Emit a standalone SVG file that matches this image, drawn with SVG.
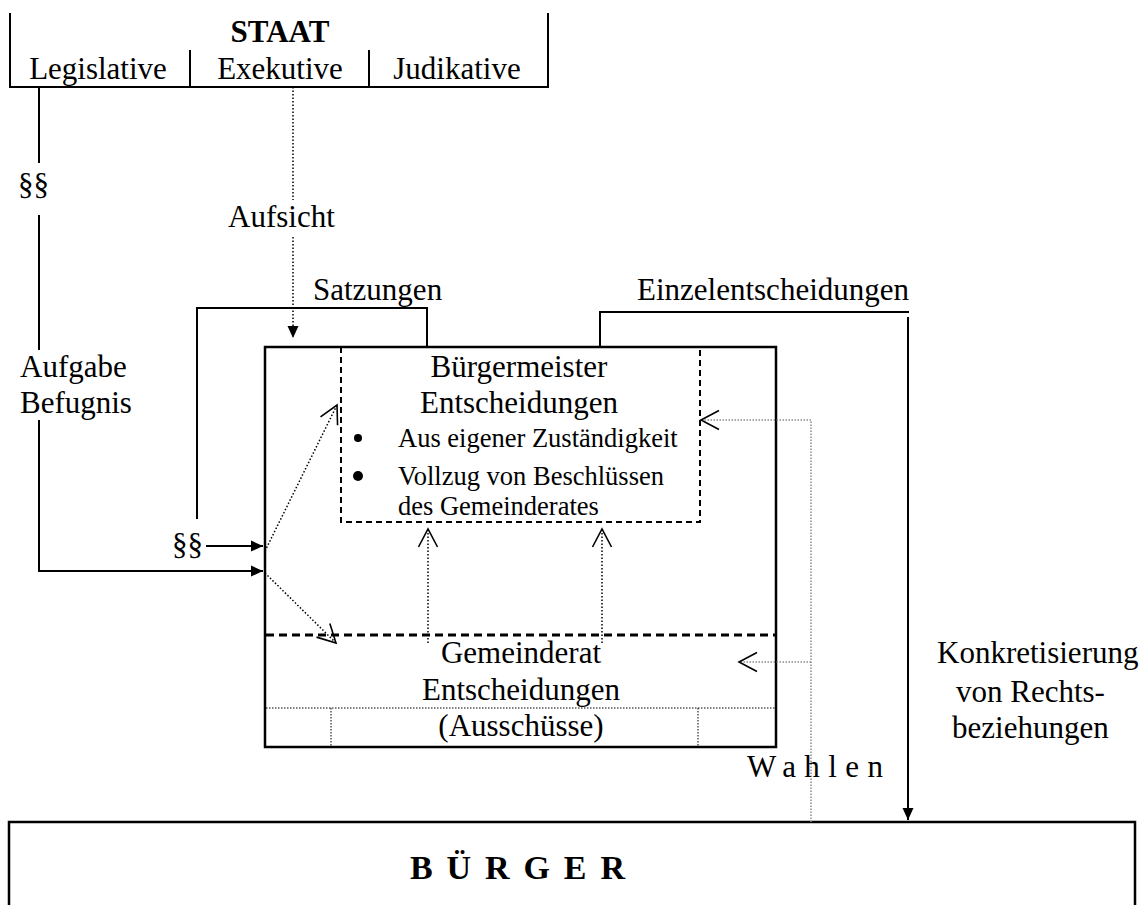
<svg xmlns="http://www.w3.org/2000/svg" width="1145" height="905" viewBox="0 0 1145 905">
  <style>
    text { font-family: "Liberation Serif", "Times New Roman", serif; font-size: 31px; fill: #000; }
    .bold { font-weight: bold; }
    .big { font-size: 34px; }
    .small { font-size: 26.5px; }
    .solid { fill: none; stroke: #000; stroke-width: 2; }
    .frame { fill: none; stroke: #000; stroke-width: 2.5; }
    .dash { fill: none; stroke: #000; stroke-width: 2; stroke-dasharray: 6 4; }
    .thickdash { fill: none; stroke: #000; stroke-width: 3; stroke-dasharray: 8 5; }
    .dot { fill: none; stroke: #000; stroke-width: 1.5; stroke-dasharray: 1.5 2; }
    .thindot { fill: none; stroke: #000; stroke-width: 1; stroke-dasharray: 1.5 1.5; }
    .greydot { fill: none; stroke: #8a8a8a; stroke-width: 1.5; stroke-dasharray: 1.5 1.5; }
  </style>
  <defs>
    <marker id="filled" viewBox="-12 -6 12 12" refX="0" refY="0" markerWidth="12" markerHeight="12" markerUnits="userSpaceOnUse" orient="auto">
      <path d="M-12,-5.5 L0,0 L-12,5.5 Z" fill="#000"/>
    </marker>
    <marker id="open" viewBox="-19 -11 21 22" refX="0" refY="0" markerWidth="21" markerHeight="22" markerUnits="userSpaceOnUse" orient="auto">
      <path d="M-18,-9.5 L0,0 L-18,9.5" fill="none" stroke="#000" stroke-width="1.6"/>
    </marker>
  </defs>

  <rect width="1145" height="905" fill="#fff"/>

  <!-- State with its three powers -->
  <g id="staat">
    <path class="solid" d="M10,13 V87 H548 V13"/>
    <path class="solid" d="M190,50 V87 M369,50 V87"/>
    <text class="bold" x="280" y="42" text-anchor="middle">STAAT</text>
    <text x="98" y="79" text-anchor="middle">Legislative</text>
    <text x="280" y="79" text-anchor="middle">Exekutive</text>
    <text x="457" y="79" text-anchor="middle">Judikative</text>
  </g>

  <!-- Municipality frame -->
  <g id="gemeinde">
    <rect class="frame" x="265" y="347" width="511" height="400"/>
  </g>

  <!-- Mayor -->
  <g id="buergermeister">
    <path class="dash" d="M341,347 V522 H700 V347"/>
    <text x="519" y="377" text-anchor="middle">Bürgermeister</text>
    <text x="519" y="413" text-anchor="middle">Entscheidungen</text>
    <circle cx="358" cy="438" r="4"/>
    <text class="small" x="398" y="447">Aus eigener Zuständigkeit</text>
    <circle cx="358" cy="476" r="5"/>
    <text class="small" x="398" y="485">Vollzug von Beschlüssen</text>
    <text class="small" x="398" y="515">des Gemeinderates</text>
  </g>

  <!-- Council -->
  <g id="gemeinderat">
    <path class="thickdash" d="M266,635 H775"/>
    <path class="thindot" d="M266,708 H775 M331,708 V746 M698,708 V746"/>
    <text x="521" y="663" text-anchor="middle">Gemeinderat</text>
    <text x="521" y="700" text-anchor="middle">Entscheidungen</text>
    <text x="521" y="736" text-anchor="middle">(Ausschüsse)</text>
  </g>

  <!-- Citizens -->
  <g id="buerger">
    <rect class="frame" x="9" y="822" width="1126" height="110"/>
    <text class="bold big" x="410" y="879" textLength="215" lengthAdjust="spacing">BÜRGER</text>
  </g>

  <!-- Connectors -->
  <g id="connectors">
    <!-- Legislative: tasks and powers -->
    <path class="solid" d="M39,87 V163 M39,215 V350"/>
    <path class="solid" d="M39,420 V571 H263" marker-end="url(#filled)"/>
    <!-- §§ into the municipality -->
    <path class="solid" d="M206,546 H263" marker-end="url(#filled)"/>
    <!-- Supervision by the executive -->
    <path class="dot" d="M293,87 V200"/>
    <path class="dot" d="M293,237 V338" marker-end="url(#filled)"/>
    <!-- Statutes -->
    <path class="solid" d="M197,519 V308 H427 V347"/>
    <!-- Individual decisions down to the citizens -->
    <path class="solid" d="M600,347 V312 H909"/>
    <path class="solid" d="M908,317 V820" marker-end="url(#filled)"/>
    <!-- Legal basis split to mayor and council -->
    <path class="dot" d="M265,551 L337,405" marker-end="url(#open)"/>
    <path class="dot" d="M265,573 L336,643" marker-end="url(#open)"/>
    <!-- Council to mayor -->
    <path class="dot" d="M428,643 V529" marker-end="url(#open)"/>
    <path class="dot" d="M602,643 V529" marker-end="url(#open)"/>
    <!-- Elections -->
    <path class="greydot" d="M811,822 V420 H701" marker-end="url(#open)"/>
    <path class="greydot" d="M811,662 H739" marker-end="url(#open)"/>
  </g>

  <!-- Connector labels -->
  <g id="labels">
    <text x="18" y="195">§§</text>
    <text x="20" y="377">Aufgabe</text>
    <text x="20" y="413">Befugnis</text>
    <text x="172" y="555">§§</text>
    <text x="228" y="227">Aufsicht</text>
    <text x="313" y="300">Satzungen</text>
    <text x="637" y="300">Einzelentscheidungen</text>
    <text x="747" y="777" textLength="136" lengthAdjust="spacing">Wahlen</text>
    <text x="937" y="663">Konkretisierung</text>
    <text x="956" y="702">von Rechts-</text>
    <text x="952" y="738">beziehungen</text>
  </g>
</svg>
